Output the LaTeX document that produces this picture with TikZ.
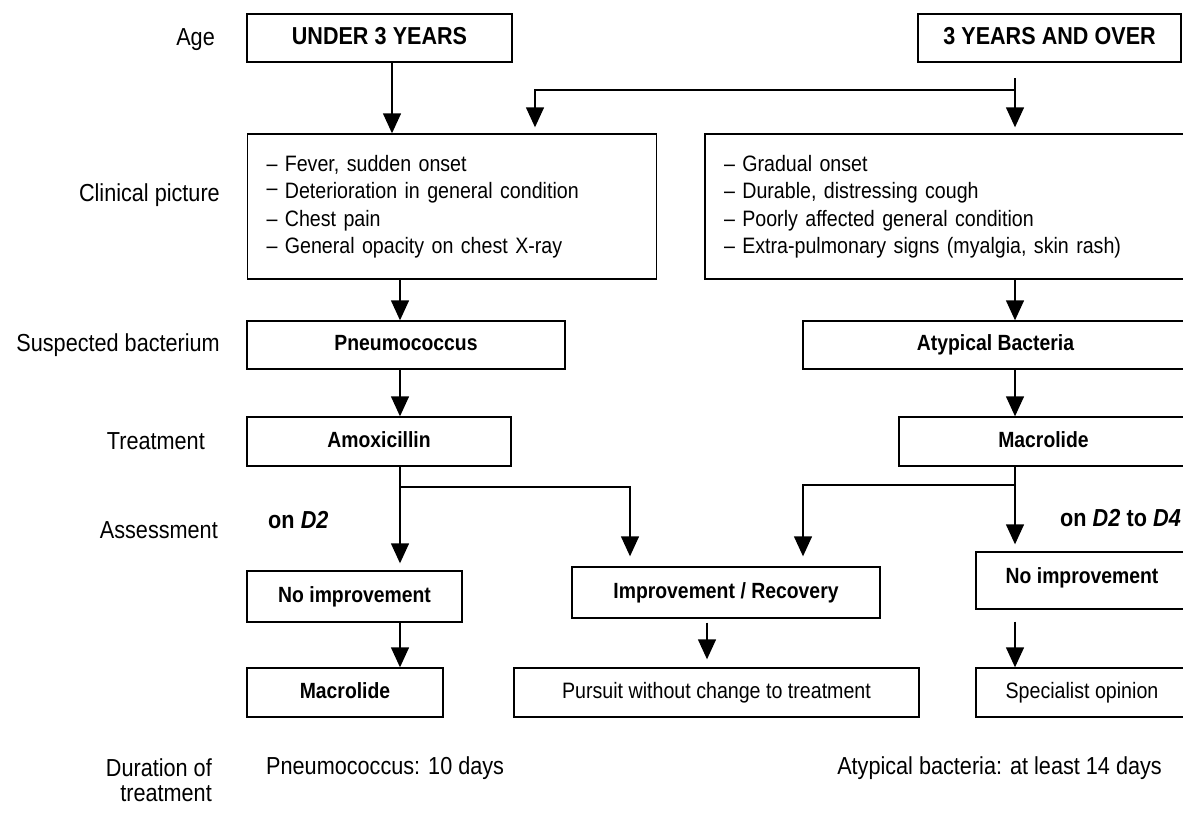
\documentclass[tikz,border=0pt]{standalone}
\usepackage{fontspec}
\setmainfont{Liberation Sans}[FakeStretch=0.88]
\usetikzlibrary{arrows.meta}
\newcommand\topfnt{\fontsize{24.5}{29}\selectfont\bfseries\spaceskip=0.25em\relax}
\newcommand\bxfnt{\fontsize{22}{27.5}\selectfont\bfseries\spaceskip=0.25em\relax}
\newcommand\rgfnt{\fontsize{22.3}{27.5}\selectfont\spaceskip=0.245em\relax}
\newcommand\lbfnt{\fontsize{24.6}{25}\selectfont\spaceskip=0.245em\relax}
\newcommand\lbbfnt{\fontsize{24.6}{25}\selectfont\bfseries\spaceskip=0.25em\relax}
\begin{document}
\begin{tikzpicture}[x=1pt,y=-1pt,
  box/.style={draw, line width=1.4pt, inner sep=0pt, align=center, font=\bxfnt, text height=16pt, text depth=5pt},
  listbox/.style={draw, line width=1.4pt, inner sep=0pt, align=left, font=\rgfnt},
  plainbox/.style={draw, line width=1.4pt, inner sep=0pt, align=center, font=\rgfnt, text height=16pt, text depth=5pt},
  lab/.style={inner sep=0pt, font=\lbfnt},
  arr/.style={line width=1.4pt, -{Triangle[width=18pt,length=20pt]}},
  conn/.style={line width=1.4pt}]
\useasboundingbox (0,0) rectangle (1183,817);
\clip (0,0) rectangle (1183,817);
\fill[white] (0,0) rectangle (1183,817);

% row labels
\node[lab, anchor=east] (lAge) at (215,40) {Age};
\node[lab, anchor=east] (lClin) at (220,195) {Clinical picture};
\node[lab, anchor=east] (lSusp) at (220,345) {Suspected bacterium};
\node[lab, anchor=east] (lTreat) at (205,441) {Treatment};
\node[lab, anchor=east] (lAss) at (218,530) {Assessment};
\node[lab, anchor=east, align=right] (lDur) at (212,780) {Duration of\\treatment};

% age
\node[box, font=\topfnt, minimum width=265pt, minimum height=48pt, text height=17.5pt] (u3) at (379.5,38) {UNDER 3 YEARS};
\node[box, font=\topfnt, minimum width=263pt, minimum height=48pt, text height=17.5pt] (o3) at (1049.5,38) {3 YEARS AND OVER};

% clinical picture
\node[listbox, minimum width=409pt, minimum height=145pt, text width=371pt] (clinL) at (452,206.5)
 {– Fever, sudden onset\\
  \raisebox{3.5pt}{–} Deterioration in general condition\\
  – Chest pain\\
  – General opacity on chest X-ray};
\node[listbox, minimum width=483pt, minimum height=145pt, text width=445pt] (clinR) at (946.5,206.5)
 {– Gradual onset\\
  – Durable, distressing cough\\
  – Poorly affected general condition\\
  – Extra-pulmonary signs (myalgia, skin rash)};

% suspected bacterium
\node[box, minimum width=318pt, minimum height=48pt] (pneu) at (406,345) {Pneumococcus};
\node[box, minimum width=385pt, minimum height=48pt] (atyp) at (995.5,345) {Atypical Bacteria};

% treatment
\node[box, minimum width=264pt, minimum height=49pt] (amox) at (379,441.5) {Amoxicillin};
\node[box, minimum width=289pt, minimum height=49pt] (macR) at (1043.5,441.5) {Macrolide};

% assessment
\node[inner sep=0pt, anchor=west, font=\lbbfnt] (d2L) at (268,520) {on \textit{D2}};
\node[inner sep=0pt, anchor=east, font=\lbbfnt] (d2R) at (1181,518) {on \textit{D2} to \textit{D4}};
\node[box, minimum width=215pt, minimum height=51pt] (noimpL) at (354.5,596.5) {No improvement};
\node[box, minimum width=308pt, minimum height=51pt] (impr) at (726,592.5) {Improvement / Recovery};
\node[box, minimum width=212pt, minimum height=57pt, text depth=10pt] (noimpR) at (1082,580.5) {No improvement};

% outcome
\node[box, minimum width=196pt, minimum height=49pt] (macL) at (345,692.5) {Macrolide};
\node[plainbox, minimum width=405pt, minimum height=49pt] (purs) at (716.5,692.5) {Pursuit without change to treatment};
\node[plainbox, minimum width=212pt, minimum height=49pt] (spec) at (1082,692.5) {Specialist opinion};

% duration
\node[lab, anchor=west] (durL) at (266,768) {Pneumococcus: 10 days};
\node[lab, anchor=east] (durR) at (1162,768) {Atypical bacteria: at least 14 days};

% connector x positions and junctions
\coordinate (xa) at (392,0);
\coordinate (xb) at (400,0);
\coordinate (xc) at (535,0);
\coordinate (xd) at (1015,0);
\coordinate (xe) at (630,0);
\coordinate (xf) at (803,0);
\coordinate (xg) at (707,0);
\coordinate (o3s) at (1015,78);
\coordinate (jT) at (1015,90);
\coordinate (jL) at (400,487);
\coordinate (jR) at (1015,485);

\draw[arr] (u3.south -| xa) -- (clinL.north -| xa);
\draw[arr, shorten >=6pt] (o3s) -- (clinR.north -| xd);
\draw[arr, shorten >=6pt] (jT) -| (clinL.north -| xc);
\draw[arr] (clinL.south -| xb) -- (pneu.north -| xb);
\draw[arr] (clinR.south -| xd) -- (atyp.north -| xd);
\draw[arr] (pneu.south -| xb) -- (amox.north -| xb);
\draw[arr] (atyp.south -| xd) -- (macR.north -| xd);
\draw[arr, shorten >=7pt] (amox.south -| xb) -- (noimpL.north -| xb);
\draw[arr, shorten >=10pt] (jL) -| (impr.north -| xe);
\draw[arr, shorten >=7pt] (macR.south -| xd) -- (noimpR.north -| xd);
\draw[arr, shorten >=10pt] (jR) -| (impr.north -| xf);
\draw[arr] (noimpL.south -| xb) -- (macL.north -| xb);
\draw[arr, shorten <=4pt, shorten >=8pt] (impr.south -| xg) -- (purs.north -| xg);
\draw[arr, shorten <=12pt] (noimpR.south -| xd) -- (spec.north -| xd);
\end{tikzpicture}
\end{document}
